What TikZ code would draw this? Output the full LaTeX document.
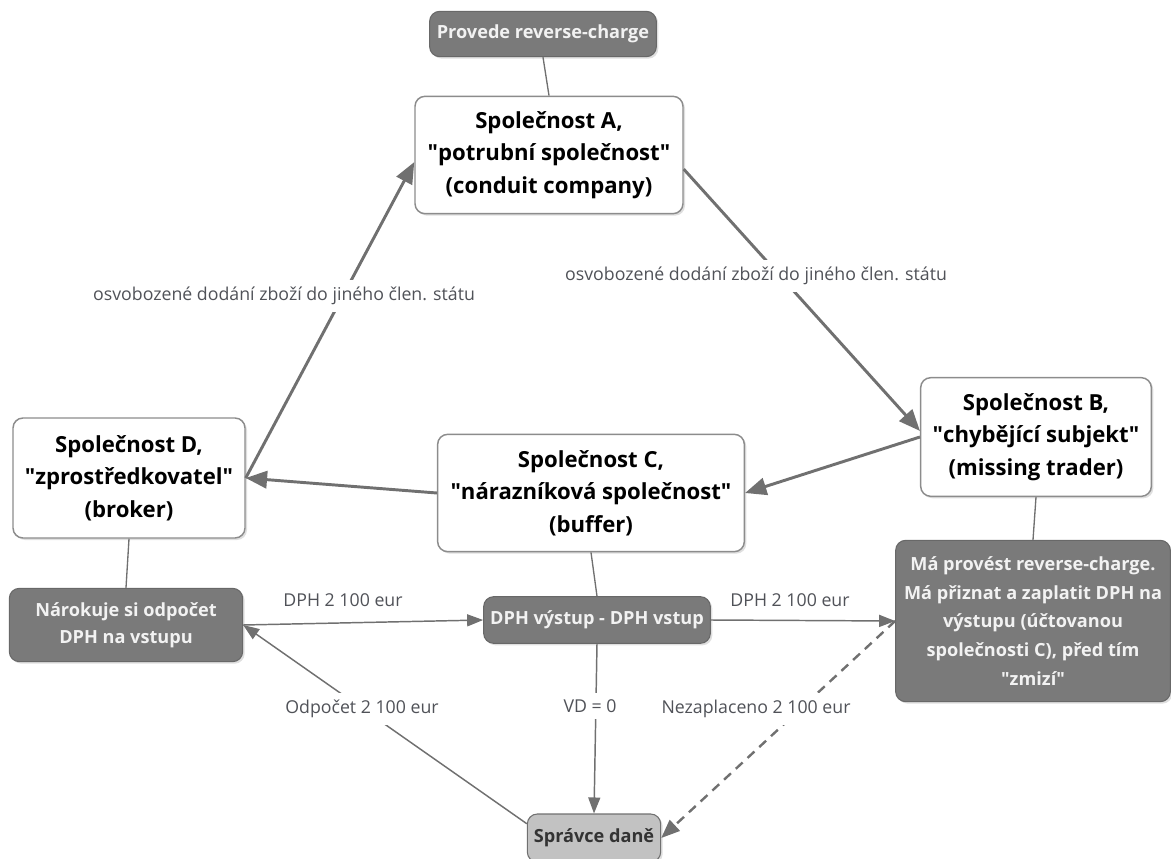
\documentclass[tikz,border=0pt]{standalone}
\usepackage{fontspec}
\setmainfont{Open Sans}
\usetikzlibrary{arrows.meta,shadows}

\definecolor{linegray}{RGB}{112,112,112}
\definecolor{boxline}{RGB}{140,140,140}
\definecolor{darkfill}{RGB}{122,122,122}
\definecolor{lightfill}{RGB}{194,194,194}
\definecolor{labeltext}{RGB}{80,82,88}

\newcommand{\dq}[1]{\textquotedbl#1\textquotedbl}

\tikzset{
  firm/.style={draw=boxline, line width=1.1pt, fill=white, rounded corners=7.5pt, align=center, inner sep=2pt,
    font=\fontsize{16.6}{24.5}\selectfont\bfseries, text=black,
    drop shadow={opacity=0.25, shadow xshift=1.5pt, shadow yshift=-1.5pt}},
  note/.style={draw=darkfill!85!black, line width=0.8pt, fill=darkfill, rounded corners=7.5pt, align=center, inner sep=2pt,
    font=\fontsize{13.6}{20.3}\selectfont\bfseries, text=white!95!black,
    drop shadow={opacity=0.25, shadow xshift=1.5pt, shadow yshift=-1.5pt}},
  flow/.style={draw=linegray, line width=2.2pt, -{Triangle[length=16pt,width=13pt]}},
  tie/.style={draw=linegray, line width=1pt},
  money/.style={draw=linegray, line width=1.1pt, -{Triangle[length=12pt,width=9pt]}},
  lbl/.style={font=\fontsize{13.3}{15}\selectfont, text=labeltext, inner sep=5pt},
}

\begin{document}
\begin{tikzpicture}[x=0.75pt,y=0.75pt,yscale=-1,xscale=1]
\useasboundingbox (0,0) rectangle (1171,859);

% Companies
\node [firm, minimum width=201pt, minimum height=88pt] (A) at (549,155) {Společnost A,\\\dq{potrubní společnost}\\(conduit company)};
\node [firm, minimum width=173pt, minimum height=89pt] (B) at (1036,437) {Společnost B,\\\dq{chybějící subjekt}\\(missing trader)};
\node [firm, minimum width=230pt, minimum height=88pt] (C) at (591,493) {Společnost C,\\\dq{nárazníková společnost}\\(buffer)};
\node [firm, minimum width=174pt, minimum height=90pt] (D) at (129,478) {Společnost D,\\\dq{zprostředkovatel}\\(broker)};

% Notes
\node [note, minimum width=170pt, minimum height=34pt] (rc) at (543,34) {Provede reverse-charge};
\node [note, minimum width=175pt, minimum height=55pt] (nar) at (126,625) {Nárokuje si odpočet\\DPH na vstupu};
\node [note, minimum width=170pt, minimum height=35pt] (vv) at (597,620) {DPH výstup - DPH vstup};
\node [note, minimum width=206pt, minimum height=121pt, font=\fontsize{13.6}{21.4}\selectfont\bfseries] (ma) at (1033,621) {Má provést reverse-charge.\\Má přiznat a zaplatit DPH na\\výstupu (účtovanou\\společnosti C), před tím\\\dq{zmizí}};
\node [note, fill=lightfill, draw=linegray, text=black!80, minimum width=100pt, minimum height=36pt] (spr) at (594,838) {Správce daně};

% Ties
\draw [tie] (rc.south) -- (A.north);
\draw [tie] (D.south) -- (nar.north);
\draw [tie] (C.south) -- (vv.north);
\draw [tie] (B.south) -- (ma.north);

% Supply chain
\draw [flow] (A.-6) -- (B.177);
\draw [flow] (B.west) -- (C.east);
\draw [flow] (C.west) -- (D.east);
\draw [flow] (D.east) -- (A.183);

% VAT flows
\draw [money] (nar.east) -- (vv.west);
\draw [money] (vv.east) -- (ma.west);
\draw [money] (vv.south) -- (spr.north);
\draw [money] (spr.168) -- (nar.east);
\draw [money, line width=1.8pt, dash pattern={on 7pt off 5pt}, -{Triangle[length=14pt,width=11pt]}] (ma.west) -- (spr.east);

% Text Node
\node [lbl, fill=white] (lad) at (284,296) {osvobozené dodání zboží do jiného člen. státu};
\node [lbl, fill=white] (lab) at (756,276) {osvobozené dodání zboží do jiného člen. státu};
\node [lbl] (lnv) at (343,600) {DPH 2 100 eur};
\node [lbl] (lvm) at (790,600) {DPH 2 100 eur};
\node [lbl, fill=white] (lvd) at (590,706) {VD = 0};
\node [lbl, fill=white] (lodp) at (362,709) {Odpočet 2 100 eur};
\node [lbl, fill=white] (lnez) at (756,709) {Nezaplaceno 2 100 eur};

\end{tikzpicture}
\end{document}
